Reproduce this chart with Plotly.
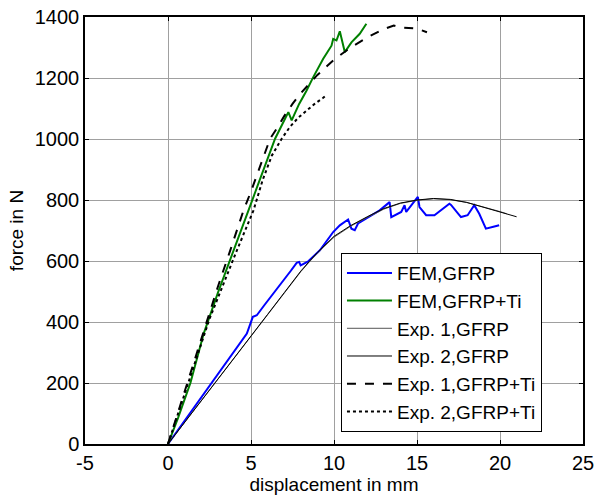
import plotly.graph_objects as go

# FEM, GFRP
fem_gfrp_x = [0, 1, 2, 3, 4, 4.75, 5.11, 5.35, 5.8, 6.35, 6.95, 7.4, 7.75, 7.9, 7.99, 8.45, 9.15, 9.95, 10.35, 10.85, 11.05, 11.25, 11.45, 11.8, 12.3, 12.75, 13.35, 13.45, 14.05, 14.25, 14.35, 15.05, 15.15, 15.55, 16.05, 16.55, 16.95, 17.05, 17.65, 18.05, 18.45, 18.75, 18.95, 19.15, 19.6, 19.95]
fem_gfrp_y = [0, 76, 152, 228, 304, 362, 417, 422, 455, 493, 537, 568, 594, 597, 586, 599, 635, 695, 717, 736, 706, 701, 723, 735, 750, 766, 793, 744, 761, 783, 761, 810, 777, 750, 750, 772, 788, 784, 744, 750, 783, 755, 733, 706, 712, 717]

# FEM, GFRP+Ti
fem_ti_x = [0, 0.6, 1.35, 2.15, 3.0, 3.95, 4.85, 5.4, 5.95, 6.45, 6.9, 7.25, 7.45, 7.9, 8.35, 8.75, 9.35, 9.85, 9.95, 10.15, 10.35, 10.65, 11.05, 11.55, 11.95]
fem_ti_y = [0, 85, 200, 362, 495, 635, 766, 850, 930, 1001, 1050, 1088, 1061, 1115, 1159, 1203, 1263, 1306, 1328, 1323, 1353, 1285, 1317, 1345, 1378]

# Exp. 1, GFRP
exp1_gfrp_x = [0, 2, 4, 5, 6, 7, 8, 8.5, 9, 10, 11, 12, 13, 14, 15, 16, 17, 18, 19, 20, 20.4]
exp1_gfrp_y = [0, 142, 283, 353, 423, 494, 565, 596, 626, 678, 714, 743, 770, 789, 799, 804, 801, 792, 778, 762, 755]

# Exp. 2, GFRP
exp2_gfrp_x = [0, 2, 4, 5, 6, 7, 8, 8.5, 9, 10, 11, 12, 13, 14, 15, 16, 17, 18, 19, 20, 20.5, 21]
exp2_gfrp_y = [0, 143, 285, 355, 425, 496, 567, 598, 628, 681, 716, 745, 772, 790, 800, 805, 802, 792, 777, 760, 752, 745]

# Exp. 1, GFRP+Ti
exp1_ti_x = [0, 1, 2, 3, 3.75, 4.55, 5, 5.6, 6.15, 6.55, 7, 7.5, 8, 9, 10, 11, 12, 13, 13.6, 14, 14.5, 15, 15.6]
exp1_ti_y = [0, 173, 345, 515, 635, 766, 828, 915, 1001, 1034, 1075, 1115, 1150, 1210, 1260, 1300, 1333, 1360, 1372, 1366, 1365, 1362, 1350]

# Exp. 2, GFRP+Ti
exp2_ti_x = [0, 1.2, 2.5, 4.15, 5.15, 5.7, 6.25, 6.85, 7.35, 7.85, 8.35, 8.85, 9.35, 9.5]
exp2_ti_y = [0, 200, 410, 635, 766, 865, 945, 1001, 1040, 1070, 1094, 1116, 1135, 1142]

x_ticks = [-5, 0, 5, 10, 15, 20, 25]
x_tick_labels = ["-5", "0", "5", "10", "15", "20", "25"]
y_ticks = [0, 200, 400, 600, 800, 1000, 1200, 1400]
y_tick_labels = ["0", "200", "400", "600", "800", "1000", "1200", "1400"]

FONT = "Liberation Sans, Arial, sans-serif"

fig = go.Figure()
fig.add_trace(go.Scatter(x=fem_gfrp_x, y=fem_gfrp_y, mode="lines", name="FEM,GFRP",
                         line=dict(color="#0000ff", width=2)))
fig.add_trace(go.Scatter(x=fem_ti_x, y=fem_ti_y, mode="lines", name="FEM,GFRP+Ti",
                         line=dict(color="#008000", width=2)))
fig.add_trace(go.Scatter(x=exp1_gfrp_x, y=exp1_gfrp_y, mode="lines", name="Exp. 1,GFRP",
                         line=dict(color="#555555", width=1)))
fig.add_trace(go.Scatter(x=exp2_gfrp_x, y=exp2_gfrp_y, mode="lines", name="Exp. 2,GFRP",
                         line=dict(color="#000000", width=1)))
fig.add_trace(go.Scatter(x=exp1_ti_x, y=exp1_ti_y, mode="lines", name="Exp. 1,GFRP+Ti",
                         line=dict(color="#000000", width=2, dash="dash")))
fig.add_trace(go.Scatter(x=exp2_ti_x, y=exp2_ti_y, mode="lines", name="Exp. 2,GFRP+Ti",
                         line=dict(color="#000000", width=2, dash="dot")))

axis_common = dict(
    showgrid=True, gridcolor="#a0a0a0", gridwidth=1,
    showline=True, linecolor="black", linewidth=1.5, mirror="ticks",
    ticks="inside", ticklen=4, tickcolor="black",
    zeroline=False, automargin=False, ticklabeloverflow="allow",
    tickfont=dict(family=FONT, size=20, color="black"),
)

fig.update_layout(
    width=604, height=497,
    margin=dict(l=85, r=21, t=17, b=53),
    paper_bgcolor="white", plot_bgcolor="white",
    font=dict(family=FONT, size=20, color="black"),
    showlegend=True,
    legend=dict(x=0.514, y=0.028, xanchor="left", yanchor="bottom",
                bgcolor="white", bordercolor="black", borderwidth=1,
                font=dict(family=FONT, size=19, color="black"),
                itemwidth=45, tracegroupgap=0),
    xaxis=dict(range=[-5, 25], tickvals=x_ticks, ticktext=x_tick_labels,
               title=dict(text="displacement in mm", font=dict(family=FONT, size=19), standoff=0),
               **axis_common),
    yaxis=dict(range=[0, 1400], tickvals=y_ticks, ticktext=y_tick_labels,
               title=dict(text="force in N", font=dict(family=FONT, size=19), standoff=6),
               **axis_common),
)

# remove the default 8px page margin so the figure sits at the window's corner
fig.write_html("out.html",
               config={"displayModeBar": False},
               post_script="document.body.style.margin='0';document.body.style.overflow='hidden';")
